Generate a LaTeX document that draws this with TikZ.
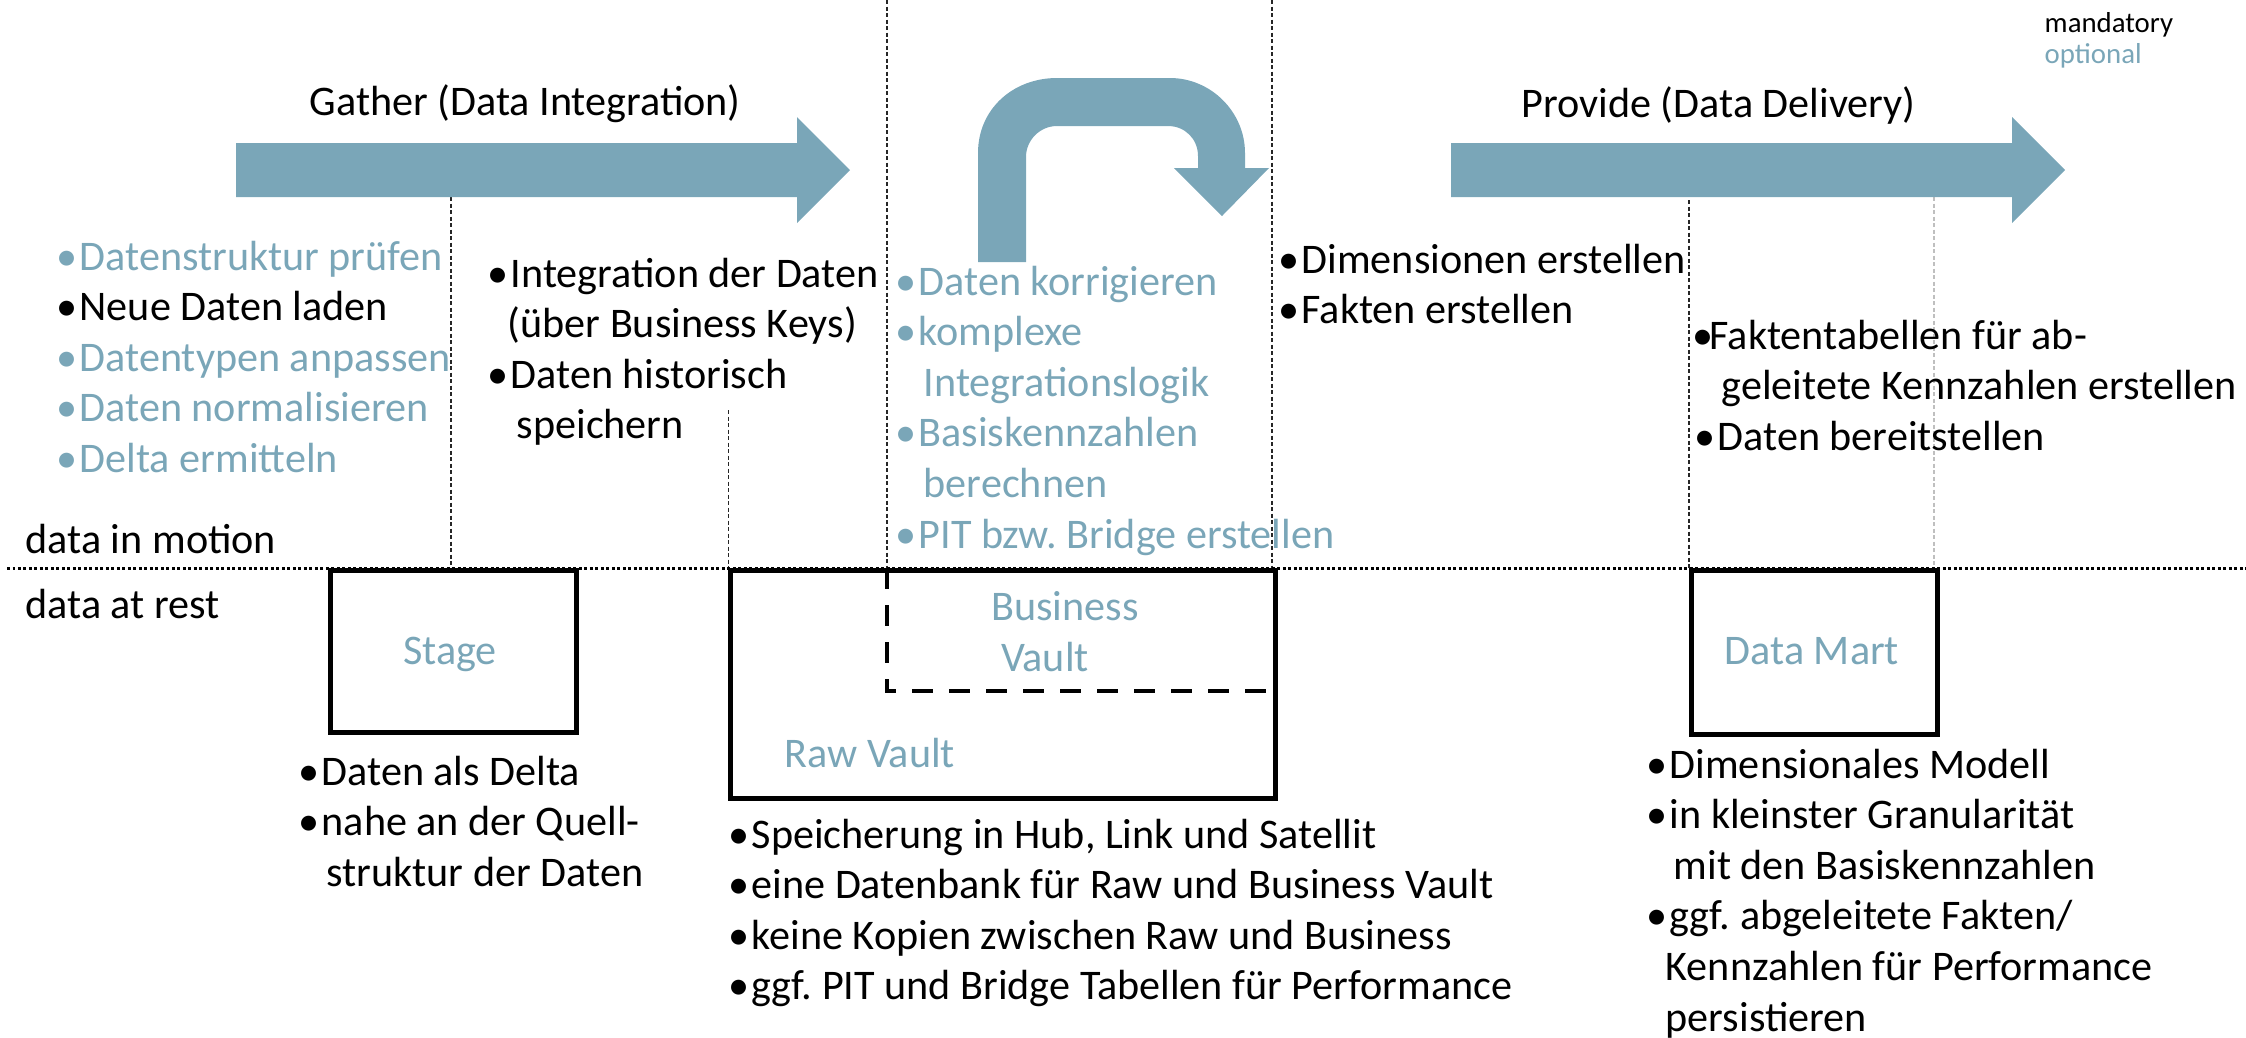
\documentclass[tikz,border=0pt]{standalone}
\usepackage{fontspec}
\setmainfont{Carlito}
\definecolor{optcol}{RGB}{122,166,184}
\newdimen\pxu \pxu=0.1mm
\newcommand\bodyfont{\fontsize{12pt}{14.4pt}\selectfont\frenchspacing}
\newcommand\legendfont{\fontsize{8.2pt}{10pt}\selectfont}
\newcommand\bulletdot{\hspace{-4\pxu}\textbullet}
\newcommand\bu{\makebox[19\pxu][l]{\bulletdot}}
\newcommand\opt{\color{optcol}}
\newenvironment{lines}{\begin{tabular}[t]{@{}l@{}}}{\end{tabular}}

\tikzset{
  x=0.1mm, y=-0.1mm,
  flowarrow/.style={fill=optcol, draw=none},
  store/.style={draw=black, line width=4.5\pxu, fill=none, inner sep=0pt, anchor=north west},
  guide/.style={draw=black!85, line width=1.3\pxu, dash pattern=on 4\pxu off 2.5\pxu},
  faintguide/.style={draw=black!25, line width=1.3\pxu, dash pattern=on 4\pxu off 2.5\pxu},
  restline/.style={draw=black, line width=3\pxu, dash pattern=on 3\pxu off 2.5\pxu},
  txt/.style={anchor=base west, inner sep=0pt, font=\bodyfont},
  boxlabel/.style={anchor=base, inner sep=0pt, font=\bodyfont, text=optcol},
}

\begin{document}
\begin{tikzpicture}
\useasboundingbox (0,0) rectangle (2246,1037);

% phase boundaries
\draw[guide] (451,197) -- (451,568);
\draw[guide] (728.5,410) -- (728.5,568);
\draw[guide] (887,0) -- (887,568);
\draw[guide] (1272,0) -- (1272,568);
\draw[guide] (1689,200) -- (1689,568);
\draw[faintguide] (1934,197) -- (1934,568);

% border between data in motion and data at rest
\draw[restline] (7,568) -- (2246,568);

% process arrows
\fill[flowarrow] (236,143) -- (797,143) -- (797,117) -- (850,170) -- (797,223) -- (797,197) -- (236,197) -- cycle;
\fill[flowarrow] (1451,143) -- (2012,143) -- (2012,117) -- (2065,170) -- (2012,223) -- (2012,197) -- (1451,197) -- cycle;
\fill[flowarrow] (978,262) -- (978,153) .. controls (978,109) and (1013,78) .. (1057,78)
  -- (1170,78) .. controls (1211,78) and (1245,112) .. (1245,153)
  -- (1245,168) -- (1269,168) -- (1222,216) -- (1174,168) -- (1198,168)
  -- (1198,156) .. controls (1198,139) and (1185,126) .. (1168,126)
  -- (1057,126) .. controls (1040,126) and (1026,140) .. (1026,157)
  -- (1026,262) -- cycle;

% storage layers
\node[store, minimum width=246\pxu, minimum height=162\pxu] (stage) at (328,568) {};
\node[store, minimum width=545\pxu, minimum height=228\pxu] (rawvault) at (728,568) {};
\node[store, minimum width=246\pxu, minimum height=164\pxu] (datamart) at (1689,568) {};
\draw[line width=4.5\pxu, dash pattern=on 21\pxu off 16\pxu] (887,568) -- (887,691) -- (1271,691);

\node[boxlabel] (stagelbl) at (450,664) {Stage};
\node[boxlabel] (dmlbl) at (1812,664) {Data Mart};
\node[txt, text=optcol] (rawlbl) at (784,767) {Raw Vault};
\node[boxlabel] (bvlbl1) at (1065,620) {Business};
\node[boxlabel] (bvlbl2) at (1045,671) {Vault};

% headings
\node[txt] (gather) at (309,115) {Gather (Data Integration)};
\node[txt] (provide) at (1521,117) {Provide (Data Delivery)};
\node[txt] (motion) at (25,553) {data in motion};
\node[txt] (rest) at (25,618) {data at rest};
\node[anchor=base west, inner sep=0pt, font=\legendfont] (mand) at (2044,32) {mandatory};
\node[anchor=base west, inner sep=0pt, font=\legendfont, text=optcol] (optl) at (2044,63) {optional};

% activities
\node[txt] (stagetasks) at (60,270) {\begin{lines}
{\opt\bu Datenstruktur prüfen}\\
\bu Neue Daten laden\\
{\opt\bu Datentypen anpassen}\\
{\opt\bu Daten normalisieren}\\
{\opt\bu Delta ermitteln}
\end{lines}};

\node[txt] (rvtasks) at (491,287) {\begin{lines}
\bu Integration der Daten\\
\hspace{16\pxu}(über Business Keys)\\
\bu Daten historisch\\
\hspace{25\pxu}speichern
\end{lines}};

\node[txt, text=optcol] (bvtasks) at (899,295) {\begin{lines}
\bu Daten korrigieren\\
\bu komplexe\\
\hspace{24\pxu}Integrationslogik\\
\bu Basiskennzahlen\\
\hspace{24\pxu}berechnen\\
\bu PIT bzw. Bridge erstellen
\end{lines}};

\node[txt] (dmtasks) at (1282,273) {\begin{lines}
\bu Dimensionen erstellen\\
\bu Fakten erstellen
\end{lines}};

\node[txt] (deltasks) at (1696,349) {\begin{lines}
\makebox[13\pxu][l]{\bulletdot}Faktentabellen für ab-\\
\hspace{25\pxu}geleitete Kennzahlen erstellen\\
\hspace{2\pxu}\bu Daten bereitstellen
\end{lines}};

% storage properties
\node[txt] (stageprops) at (302,785) {\begin{lines}
\bu Daten als Delta\\
\bu nahe an der Quell-\\
\hspace{24\pxu}struktur der Daten
\end{lines}};

\node[txt] (vaultprops) at (732,848) {\begin{lines}
\bu Speicherung in Hub, Link und Satellit\\
\bu eine Datenbank für Raw und Business Vault\\
\bu keine Kopien zwischen Raw und Business\\
\bu ggf. PIT und Bridge Tabellen für Performance
\end{lines}};

\node[txt] (dmprops) at (1650,778) {\begin{lines}
\bu Dimensionales Modell\\
\bu in kleinster Granularität\\
\hspace{23\pxu}mit den Basiskennzahlen\\
\bu ggf. abgeleitete Fakten/\\
\hspace{15\pxu}Kennzahlen für Performance\\
\hspace{15\pxu}persistieren
\end{lines}};
\end{tikzpicture}
\end{document}
